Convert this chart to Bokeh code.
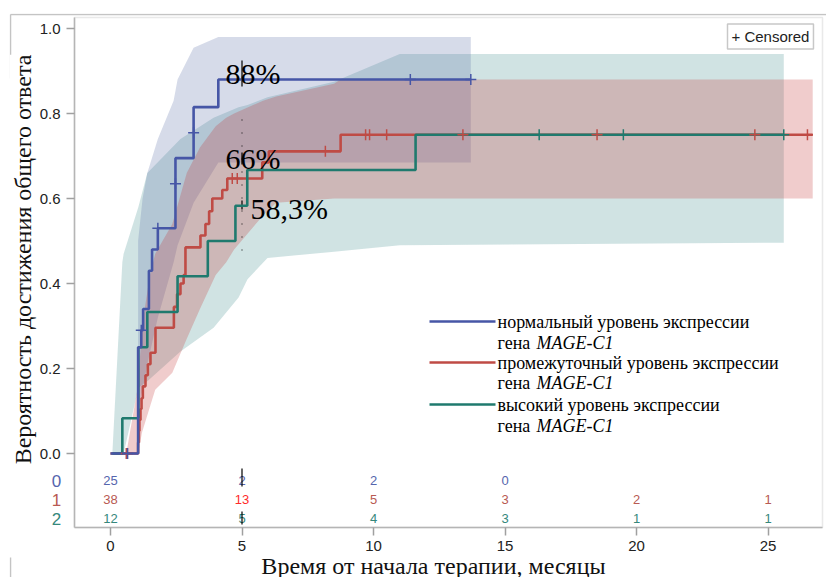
import numpy as np
from bokeh.plotting import figure
from bokeh.models import (Range1d, FixedTicker, PrintfTickFormatter, Label, ColumnDataSource,
                          BoxAnnotation)
from bokeh.embed import file_html
from bokeh.resources import INLINE
from bokeh.core.properties import value

# ---------------- data ----------------
# cumulative probability of overall response (step curves)
blue_t = [0.0, 1.05, 1.17, 1.24, 1.46, 1.58, 1.80, 2.47, 3.16, 4.10, 13.7]
blue_v = [0.0, 0.25, 0.29, 0.34, 0.43, 0.48, 0.53, 0.695, 0.815, 0.88, 0.88]
blue_cens_t = [0.65, 1.17, 1.80, 2.47, 3.16, 11.4, 13.7]
blue_cens_v = [0.0, 0.29, 0.53, 0.635, 0.755, 0.88, 0.88]

red_t = [0.0, 1.05, 1.08, 1.10, 1.14, 1.18, 1.23, 1.33, 1.42, 1.52, 1.71, 2.41, 2.53, 2.66,
         2.78, 2.85, 3.42, 3.61, 3.75, 3.87, 4.25, 4.44, 5.77, 6.02, 8.75, 26.7]
red_v = [0.0, 0.026, 0.053, 0.079, 0.105, 0.13, 0.158, 0.184, 0.21, 0.237, 0.296, 0.345, 0.375,
         0.40, 0.42, 0.485, 0.513, 0.54, 0.57, 0.60, 0.62, 0.647, 0.685, 0.711, 0.75, 0.75]
red_cens_t = [0.6, 4.63, 4.82, 8.17, 9.7, 9.85, 10.5, 13.4, 18.5, 24.5, 26.5]
red_cens_v = [0.0, 0.647, 0.647, 0.711, 0.75, 0.75, 0.75, 0.75, 0.75, 0.75, 0.75]

green_t = [0.07, 0.45, 1.06, 1.40, 2.55, 3.70, 4.75, 5.20, 11.6, 25.6]
green_v = [0.0, 0.083, 0.25, 0.333, 0.417, 0.50, 0.583, 0.667, 0.75, 0.75]
green_cens_t = [16.3, 19.5, 25.6]
green_cens_v = [0.75, 0.75, 0.75]

# confidence bands
blue_band_t = [1.05, 1.22, 1.40, 1.80, 2.40, 2.55, 3.16, 4.10, 13.7]
blue_band_lo = [0.10, 0.15, 0.21, 0.32, 0.45, 0.49, 0.59, 0.685, 0.685]
blue_band_hi = [0.50, 0.60, 0.66, 0.74, 0.83, 0.88, 0.955, 0.98, 0.98]

red_band_t = [0.6, 1.05, 1.2, 1.5, 1.7, 2.35, 2.9, 3.4, 4.0, 4.4, 4.7, 5.8, 6.3, 8.5, 8.75, 26.7]
red_band_lo = [0.0, 0.0, 0.05, 0.11, 0.15, 0.19, 0.27, 0.34, 0.42, 0.45, 0.48, 0.56, 0.59, 0.60, 0.60, 0.60]
red_band_hi = [0.0, 0.16, 0.30, 0.42, 0.47, 0.54, 0.66, 0.72, 0.77, 0.79, 0.80, 0.83, 0.84, 0.87, 0.88, 0.88]

green_band_t = [0.07, 0.45, 0.50, 1.06, 1.40, 2.66, 3.92, 4.87, 5.21, 5.97, 8.5, 11.0, 25.6]
green_band_lo = [0.0, 0.0, 0.0, 0.155, 0.17, 0.24, 0.296, 0.367, 0.41, 0.46, 0.475, 0.49, 0.496]
green_band_hi = [0.0, 0.45, 0.47, 0.58, 0.66, 0.74, 0.79, 0.815, 0.82, 0.838, 0.875, 0.94, 0.94]

# numbers at risk
risk_times = [0, 5, 10, 15, 20, 25]
risk_group0 = ["25", "2", "2", "0", "", ""]
risk_group1 = ["38", "13", "5", "3", "2", "1"]
risk_group2 = ["12", "5", "4", "3", "1", "1"]
group_names = ["0", "1", "2"]

legend_labels = ["нормальный уровень экспрессии",
                 "промежуточный уровень экспрессии",
                 "высокий уровень экспрессии"]
legend_gene = "MAGE-C1"
pct_labels = ["88%", "66%", "58,3%"]
x_title = "Время от начала терапии, месяцы"
y_title = "Вероятность достижения общего ответа"

x_ticks = [0, 5, 10, 15, 20, 25]
y_ticks = [0.0, 0.2, 0.4, 0.6, 0.8, 1.0]

# ---------------- style ----------------
BLUE = "#4656a6"
RED = "#bf4b45"
GREEN = "#1f7a6e"
BLUE_T = "#5565ad"
RED_T = "#b85a52"
GREEN_T = "#35887c"
FRAME = "#b5b5b5"
SERIF = "Liberation Serif"
SANS = "Liberation Sans"

# pixel geometry helpers (layout only; px of the reference picture)
X0_PX, PX_PER_X = 110.0, 26.3      # px of x=0, px per month
Y0_PX, PX_PER_Y = 453.0, 425.0     # px of y=0, px per unit
def dx(px):
    return (px - X0_PX) / PX_PER_X
def dy(py):
    return (Y0_PX - py) / PX_PER_Y

W, H = 826, 577
OL, OT = 9, 13                       # outer box (whole drawing area)
IL, IR, IT, IB = 74, 822, 17, 527    # inner plot box

p = figure(width=W, height=H, output_backend="svg", toolbar_location=None,
           x_range=Range1d(dx(OL), dx(W)), y_range=Range1d(dy(H), dy(OT)),
           min_border_left=OL, min_border_right=0, min_border_top=OT, min_border_bottom=0,
           background_fill_color="white", border_fill_color="white")
p.xgrid.visible = False
p.ygrid.visible = False
p.outline_line_color = None

# axes, pinned to the inner plot box
p.xaxis.fixed_location = dy(IB)
p.yaxis.fixed_location = dx(IL)
p.xaxis.bounds = (dx(IL), dx(IR))
p.yaxis.bounds = (dy(IB), dy(IT))
p.xaxis.ticker = FixedTicker(ticks=x_ticks)
p.yaxis.ticker = FixedTicker(ticks=y_ticks)
p.yaxis.formatter = PrintfTickFormatter(format="%.1f")
for ax in (p.xaxis[0], p.yaxis[0]):
    ax.axis_line_color = FRAME
    ax.axis_line_width = 1.5
    ax.major_tick_line_color = "#a0a0a0"
    ax.major_tick_line_width = 1.5
    ax.major_tick_out = 8
    ax.major_tick_in = 0
    ax.minor_tick_line_color = None
    ax.major_label_text_font = SANS
    ax.major_label_text_font_size = "15px"
    ax.major_label_text_color = "#222222"
p.xaxis.major_label_standoff = 5
p.yaxis.major_label_standoff = 6

# inner box (top and right sides) and outer box fragments
p.add_layout(BoxAnnotation(left=dx(IL), right=dx(IR), top=dy(IT), bottom=dy(IB),
                           fill_color=None, line_color=FRAME, line_width=1.5, level="underlay"))
p.segment(x0=[dx(OL + 1), dx(OL + 1), dx(OL + 1)], y0=[dy(OT + 1), dy(OT + 1), dy(557)],
          x1=[dx(W), dx(OL + 1), dx(OL + 1)], y1=[dy(OT + 1), dy(78), dy(H)],
          line_color="#c4c4c4", line_width=1.5)

# confidence bands
p.varea(x=green_band_t, y1=green_band_lo, y2=green_band_hi, fill_color=(67, 143, 143), fill_alpha=0.25)
p.varea(x=blue_band_t, y1=blue_band_lo, y2=blue_band_hi, fill_color=(91, 111, 167), fill_alpha=0.25)
p.varea(x=red_band_t, y1=red_band_lo, y2=red_band_hi, fill_color=(195, 51, 51), fill_alpha=0.25)

# reference marks at 5 months
p.segment(x0=[5, 5, 5], y0=[dy(86), dy(164), dy(209)], x1=[5, 5, 5], y1=[dy(60), dy(152), dy(200)],
          line_color="black", line_width=1.2)
p.segment(x0=[5], y0=[dy(250)], x1=[5], y1=[dy(110)], line_color="black", line_width=1.2,
          line_dash="1 12", line_alpha=0.8)

# step curves
p.step(red_t, red_v, mode="after", line_color=RED, line_width=2.6)
p.step(green_t, green_v, mode="after", line_color=GREEN, line_width=2.6)
p.step(blue_t, blue_v, mode="after", line_color=BLUE, line_width=2.6)

# censored marks
p.scatter(red_cens_t, red_cens_v, marker="cross", size=11, line_color=RED, line_width=1.5)
p.scatter(green_cens_t, green_cens_v, marker="cross", size=11, line_color=GREEN, line_width=1.5)
p.scatter(blue_cens_t, blue_cens_v, marker="cross", size=11, line_color=BLUE, line_width=1.5)

# percentage annotations
p.text(x=[dx(225), dx(225), dx(250)], y=[dy(73), dy(158), dy(208)], text=pct_labels,
       text_font=value(SERIF), text_font_size="30px", text_color="black",
       text_baseline="alphabetic", text_align="left")

# legend (manual, to allow italic gene name)
leg_line_y = [dy(321), dy(362), dy(404)]
leg_colors = [BLUE, RED, GREEN]
p.segment(x0=[dx(429)] * 3, y0=leg_line_y, x1=[dx(495)] * 3, y1=leg_line_y,
          line_color=leg_colors, line_width=2.6)
p.text(x=[dx(497)] * 3, y=leg_line_y, text=legend_labels, text_font=value(SERIF),
       text_font_size="18px", text_color="black", text_baseline="middle", text_align="left")
gene_y = [dy(342), dy(382), dy(425)]
p.text(x=[dx(497)] * 3, y=gene_y, text=["гена"] * 3, text_font=value(SERIF),
       text_font_size="18px", text_color="black", text_baseline="middle", text_align="left")
p.text(x=[dx(536)] * 3, y=gene_y, text=[legend_gene] * 3, text_font=value(SERIF),
       text_font_size="18px", text_font_style="italic", text_color="black",
       text_baseline="middle", text_align="left")

# numbers at risk
row_y = [dy(480), dy(499), dy(518)]
row_colors = [BLUE_T, RED_T, GREEN_T]
for rows, yy, col in zip([risk_group0, risk_group1, risk_group2], row_y, row_colors):
    cols = [("#ff2a2a" if (t == 5 and col == RED_T) else col) for t in risk_times]
    src = ColumnDataSource(dict(x=risk_times, y=[yy] * len(risk_times), t=rows, c=cols))
    p.text(x="x", y="y", text="t", text_color="c", source=src, text_font=value(SANS),
           text_font_size="13px", text_align="center", text_baseline="middle")
p.text(x=[dx(56)] * 3, y=row_y, text=group_names, text_color=row_colors,
       text_font=value(SANS), text_font_size="17px", text_align="center",
       text_baseline="middle")
p.segment(x0=[5, 5], y0=[dy(468), dy(511)], x1=[5, 5], y1=[dy(486), dy(524)],
          line_color="black", line_width=1.2)

# axis titles
p.text(x=[dx(433)], y=[dy(565)], text=[x_title], text_font=value(SERIF),
       text_font_size="24px", text_color="#111111", text_align="center", text_baseline="middle")
p.text(x=[dx(22)], y=[dy(259)], text=[y_title], angle=np.pi / 2, text_font=value(SERIF),
       text_font_size="24px", text_color="#111111", text_align="center", text_baseline="middle",
       background_fill_color="white")

# censored key
p.add_layout(Label(x=dx(727), y=dy(36), text="+ Censored", text_font=SANS,
                   text_font_size="15px", text_color="#222222", text_align="left",
                   text_baseline="middle", border_line_color="#c8c8c8", border_line_width=1.5,
                   background_fill_color="white", padding=4))

open("out.html", "w").write(file_html(p, INLINE))
